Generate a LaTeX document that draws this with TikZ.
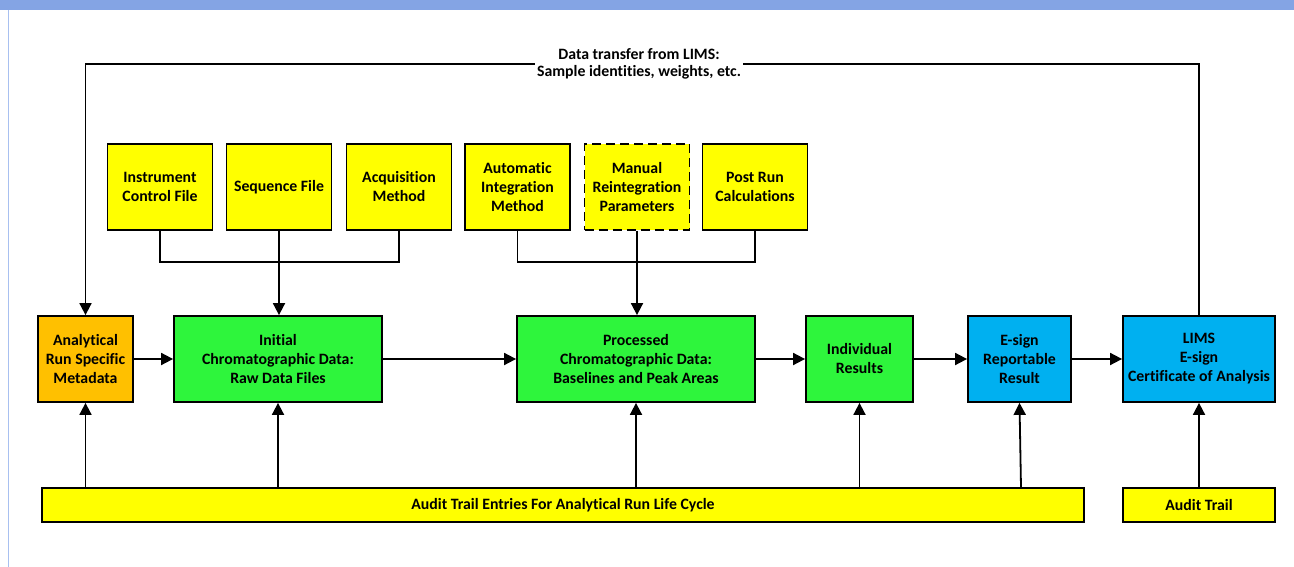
\documentclass[tikz,border=0pt]{standalone}
\usepackage{fontspec}
\setmainfont{Carlito}[Ligatures={NoCommon}]
\usetikzlibrary{arrows.meta}
\definecolor{boxYellow}{RGB}{255,255,0}
\definecolor{boxGreen}{RGB}{46,245,60}
\definecolor{boxOrange}{RGB}{255,192,0}
\definecolor{boxBlue}{RGB}{0,176,240}
\definecolor{barBlue}{RGB}{132,164,228}
\definecolor{edgeBlue}{RGB}{168,192,240}

\begin{document}
\begin{tikzpicture}[x=1pt,y=-1pt,
  blk/.style={rectangle,draw=black,line width=1.8pt,inner sep=0pt,align=center,
              font=\bfseries\fontsize{15.8}{19}\selectfont},
  topbox/.style={blk,fill=boxYellow,minimum width=105pt,minimum height=86pt},
  midbox/.style={blk,minimum height=86pt},
  ln/.style={line width=1.8pt},
  arr/.style={-{Triangle[length=12pt,width=12pt]},line width=1.8pt}]

  \useasboundingbox (0,0) rectangle (1294,567);
  % page frame
  \fill[barBlue] (0,0) rectangle (1294,10);
  \fill[edgeBlue] (7.5,10) rectangle (9,567);

  % inputs
  \node[topbox] (icf) at (160,187) {Instrument\\Control File};
  \node[topbox] (seq) at (279,187) {Sequence File};
  \node[topbox] (acq) at (399,187) {Acquisition\\Method};
  \node[topbox] (aim) at (517.5,187) {Automatic\\Integration\\Method};
  \node[topbox,dashed,dash pattern=on 9pt off 5pt] (mrp) at (637,187) {Manual\\Reintegration\\Parameters};
  \node[topbox] (prc) at (755,187) {Post Run\\Calculations};

  % main flow
  \node[midbox,fill=boxOrange,minimum width=95pt] (meta) at (85.5,359) {Analytical\\Run Specific\\Metadata};
  \node[midbox,fill=boxGreen,minimum width=208pt] (raw) at (278,359) {Initial\\Chromatographic Data:\\Raw Data Files};
  \node[midbox,fill=boxGreen,minimum width=238pt] (proc) at (636,359) {Processed\\Chromatographic Data:\\Baselines and Peak Areas};
  \node[midbox,fill=boxGreen,minimum width=107pt] (indiv) at (859.5,359) {Individual\\Results};
  \node[midbox,fill=boxBlue,minimum width=103pt] (esign) at (1019.5,359) {E-sign\\Reportable\\Result};
  \node[midbox,fill=boxBlue,minimum width=152pt] (lims) at (1199,359) {LIMS\\E-sign\\Certificate of Analysis};

  % audit trails
  \node[blk,fill=boxYellow,minimum width=1042pt,minimum height=34pt] (audit) at (563,505) {Audit Trail Entries For Analytical Run Life Cycle};
  \node[blk,fill=boxYellow,minimum width=152pt,minimum height=34pt] (atrail) at (1199,505) {Audit Trail};

  % input buses
  \coordinate (busA) at (279,262);
  \coordinate (busB) at (637,262);
  \draw[ln] (icf.south) |- (busA) -| (acq.south);
  \draw[arr] (seq.south) -- (seq.south |- raw.north);
  \draw[ln] (aim.south) |- (busB) -| (prc.south);
  \draw[arr] (mrp.south) -- (mrp.south |- proc.north);

  \draw[arr] (meta) -- (raw);
  \draw[arr] (raw) -- (proc);
  \draw[arr] (proc) -- (indiv);
  \draw[arr] (indiv) -- (esign);
  \draw[arr] (esign) -- (lims);

  % LIMS transfer
  \coordinate (limsTop) at (1199,64);
  \draw[arr] (lims.north) -- (limsTop) -- (limsTop -| meta.north) -- (meta.north);
  \node[fill=white,inner sep=2pt,align=center,font=\bfseries\fontsize{15.8}{17}\selectfont] (xfer) at (639,64)
    {Data transfer from LIMS:\\Sample identities, weights, etc.};

  % audit links
  \draw[arr] (audit.north -| meta.south) -- (meta.south);
  \draw[arr] (audit.north -| raw.south) -- (raw.south);
  \draw[arr] (audit.north -| proc.south) -- (proc.south);
  \draw[arr] (audit.north -| indiv.south) -- (indiv.south);
  \draw[arr] ([xshift=1.5pt]audit.north -| esign.south) -- (esign.south);
  \draw[arr] (atrail) -- (lims);
\end{tikzpicture}
\end{document}
